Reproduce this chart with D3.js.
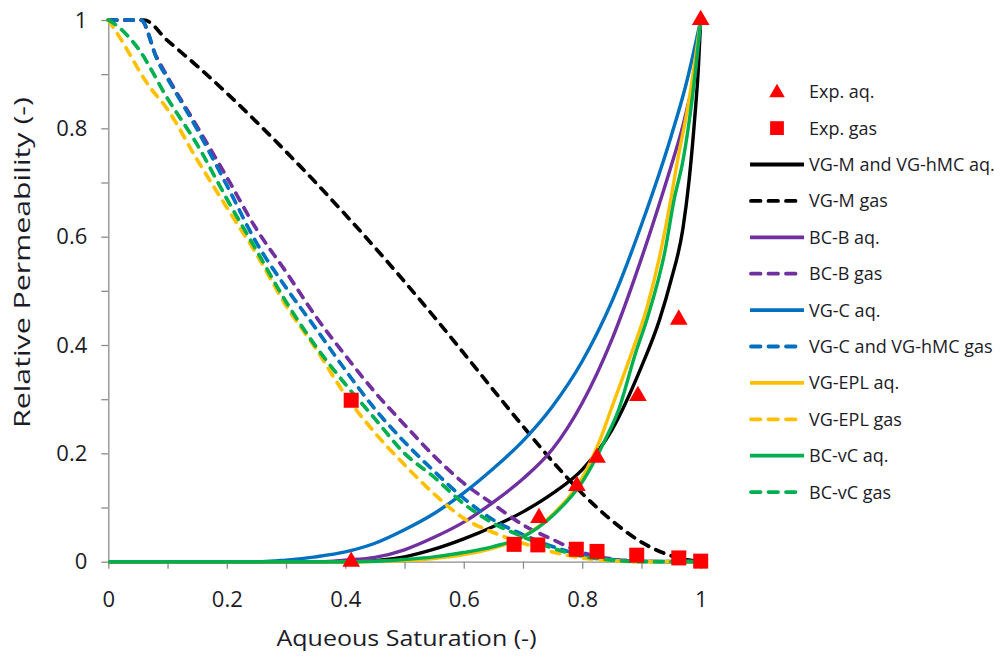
<!DOCTYPE html>
<html>
<head>
<meta charset="utf-8">
<script src="https://cdn.jsdelivr.net/npm/d3@7/dist/d3.min.js"></script>
<style>
  html, body { margin: 0; padding: 0; background: #fff; }
  svg { display: block; }
  text { font-family: "Open Sans", Lato, sans-serif; fill: #1c1c28; }
</style>
</head>
<body>
<svg id="chart" width="1003" height="659"></svg>
<script>
// Experimental points (aqueous saturation, relative permeability)
const expAq = [[0.41, 0.0], [0.727, 0.081], [0.791, 0.14], [0.825, 0.192], [0.894, 0.306], [0.963, 0.447], [1.0, 1.0]];
const expGas = [[0.41, 0.298], [0.685, 0.032], [0.725, 0.031], [0.79, 0.023], [0.825, 0.019], [0.892, 0.012], [0.963, 0.007], [1.0, 0.001]];

// Model curves
const vgmAq = [[0, 0], [0.40, 0], [0.45, 0.002], [0.5, 0.009], [0.55, 0.023], [0.6, 0.042], [0.65, 0.065], [0.7, 0.092], [0.75, 0.126], [0.8, 0.170], [0.85, 0.243], [0.9, 0.36], [0.93, 0.445], [0.95, 0.52], [0.97, 0.615], [0.98, 0.70], [0.99, 0.82], [0.996, 0.91], [1, 1]];
const vgmGas = [[0, 1], [0.06, 1], [0.1, 0.962], [0.15, 0.915], [0.2, 0.865], [0.25, 0.812], [0.3, 0.757], [0.35, 0.70], [0.4, 0.641], [0.45, 0.58], [0.5, 0.517], [0.55, 0.452], [0.6, 0.385], [0.65, 0.317], [0.7, 0.25], [0.75, 0.185], [0.8, 0.126], [0.85, 0.076], [0.9, 0.036], [0.95, 0.011], [0.98, 0.003], [1, 0]];
const bcbAq = [[0, 0], [0.36, 0], [0.4, 0.003], [0.45, 0.008], [0.5, 0.022], [0.55, 0.045], [0.6, 0.073], [0.65, 0.11], [0.7, 0.153], [0.75, 0.208], [0.8, 0.293], [0.85, 0.41], [0.9, 0.56], [0.93, 0.66], [0.95, 0.73], [0.97, 0.805], [0.98, 0.85], [0.99, 0.895], [1, 1]];
const bcbGas = [[0, 1], [0.055, 1], [0.08, 0.935], [0.1, 0.895], [0.15, 0.803], [0.2, 0.71], [0.25, 0.614], [0.3, 0.535], [0.35, 0.453], [0.4, 0.381], [0.45, 0.313], [0.5, 0.253], [0.55, 0.195], [0.6, 0.145], [0.65, 0.106], [0.7, 0.068], [0.75, 0.041], [0.8, 0.017], [0.85, 0.005], [0.9, 0.001], [0.95, 0], [1, 0]];
const vgcAq = [[0, 0], [0.26, 0], [0.3, 0.003], [0.35, 0.009], [0.4, 0.018], [0.45, 0.034], [0.5, 0.059], [0.55, 0.089], [0.6, 0.127], [0.65, 0.172], [0.7, 0.223], [0.75, 0.287], [0.8, 0.37], [0.85, 0.48], [0.9, 0.622], [0.95, 0.785], [0.975, 0.88], [1, 1]];
const vgcGas = [[0, 1], [0.055, 1], [0.084, 0.923], [0.1, 0.892], [0.15, 0.798], [0.2, 0.695], [0.25, 0.589], [0.3, 0.506], [0.35, 0.431], [0.4, 0.354], [0.45, 0.282], [0.5, 0.221], [0.55, 0.167], [0.6, 0.117], [0.65, 0.077], [0.7, 0.05], [0.75, 0.028], [0.8, 0.012], [0.85, 0.004], [0.9, 0.0005], [1, 0]];
const eplAq = [[0, 0], [0.42, 0], [0.5, 0.002], [0.55, 0.006], [0.6, 0.013], [0.65, 0.025], [0.7, 0.046], [0.75, 0.087], [0.8, 0.155], [0.83, 0.225], [0.85, 0.285], [0.88, 0.375], [0.91, 0.472], [0.93, 0.56], [0.95, 0.672], [0.96, 0.735], [0.98, 0.85], [1, 1]];
const eplGas = [[0, 1], [0.017, 0.972], [0.0675, 0.88], [0.1, 0.835], [0.15, 0.742], [0.2, 0.654], [0.25, 0.568], [0.3, 0.473], [0.35, 0.394], [0.4, 0.308], [0.45, 0.238], [0.5, 0.179], [0.55, 0.125], [0.6, 0.08], [0.65, 0.054], [0.7, 0.034], [0.75, 0.018], [0.8, 0.007], [0.85, 0.002], [0.9, 0], [1, 0]];
const bcvcAq = [[0, 0], [0.42, 0], [0.5, 0.004], [0.55, 0.009], [0.6, 0.017], [0.65, 0.028], [0.7, 0.046], [0.75, 0.085], [0.8, 0.147], [0.84, 0.228], [0.86, 0.276], [0.89, 0.385], [0.91, 0.45], [0.94, 0.575], [0.955, 0.668], [0.97, 0.74], [0.985, 0.849], [1, 1]];
const bcvcGas = [[0, 1], [0.0115, 0.992], [0.05, 0.948], [0.1, 0.855], [0.15, 0.77], [0.2, 0.67], [0.25, 0.575], [0.3, 0.48], [0.35, 0.398], [0.4, 0.328], [0.45, 0.264], [0.5, 0.2], [0.55, 0.156], [0.6, 0.107], [0.65, 0.071], [0.7, 0.046], [0.75, 0.025], [0.8, 0.01], [0.85, 0.003], [0.9, 0], [1, 0]];

// Axis ticks
const tickValues = [0, 0.1, 0.2, 0.3, 0.4, 0.5, 0.6, 0.7, 0.8, 0.9, 1];
const labeledTicks = [0, 0.2, 0.4, 0.6, 0.8, 1];
const tickLabels = ["0", "0.2", "0.4", "0.6", "0.8", "1"];

// Series in drawing order
const seriesNames = ["VG-M and VG-hMC aq.", "VG-M gas", "BC-B aq.", "BC-B gas", "VG-C aq.", "VG-C and VG-hMC gas", "VG-EPL aq.", "VG-EPL gas", "BC-vC aq.", "BC-vC gas"];
const seriesData = [vgmAq, vgmGas, bcbAq, bcbGas, vgcAq, vgcGas, eplAq, eplGas, bcvcAq, bcvcGas];
const seriesColors = ["#000000", "#000000", "#7030A0", "#7030A0", "#0070C0", "#0070C0", "#FFC000", "#FFC000", "#00B050", "#00B050"];
const seriesDashed = [false, true, false, true, false, true, false, true, false, true];

const svg = d3.select("#chart");
const x = d3.scaleLinear().domain([0, 1]).range([108.3, 700.7]);
const y = d3.scaleLinear().domain([0, 1]).range([561.7, 20]);
const axisColor = "#8c8c8c";

// Axes
const fmt = d => { const i = labeledTicks.findIndex(v => Math.abs(v - d) < 1e-9); return i >= 0 ? tickLabels[i] : ""; };

const yAxis = svg.append("g").attr("transform", `translate(${x(0)},0)`)
  .call(d3.axisLeft(y).tickValues(tickValues).tickSize(7).tickSizeOuter(0).tickPadding(14).tickFormat(fmt));
const xAxis = svg.append("g").attr("transform", `translate(0,${y(0)})`)
  .call(d3.axisBottom(x).tickValues(tickValues).tickSize(7).tickSizeOuter(0).tickPadding(23).tickFormat(fmt));

[yAxis, xAxis].forEach(g => {
  g.select(".domain").attr("stroke", axisColor).attr("stroke-width", 1.3);
  g.selectAll(".tick line").attr("stroke", axisColor).attr("stroke-width", 1.3);
  g.selectAll(".tick text").style("font-size", "22px").style("font-family", "'Open Sans', sans-serif").attr("fill", "#1c1c28");
});

// Curves
const line = d3.line().x(d => x(d[0])).y(d => y(d[1])).curve(d3.curveMonotoneX);
const curves = svg.append("g");
seriesData.forEach((data, i) => {
  curves.append("path")
    .attr("d", line(data))
    .attr("fill", "none")
    .attr("stroke", seriesColors[i])
    .attr("stroke-width", seriesDashed[i] ? 3.7 : 3.4)
    .attr("stroke-linecap", seriesDashed[i] ? "round" : "butt")
    .attr("stroke-linejoin", "round")
    .attr("stroke-dasharray", seriesDashed[i] ? "8.5,8" : null);
});

// Experimental markers
const tri = d3.symbol().type(d3.symbolTriangle).size(135);
const sq = d3.symbol().type(d3.symbolSquare).size(225);
svg.append("g").selectAll("path").data(expGas).join("path")
  .attr("d", sq).attr("fill", "#FF0000")
  .attr("transform", d => `translate(${x(d[0])},${y(d[1])})`);
svg.append("g").selectAll("path").data(expAq).join("path")
  .attr("d", tri).attr("fill", "#FF0000")
  .attr("transform", d => `translate(${x(d[0])},${y(d[1])})`);

// Axis titles
svg.append("text")
  .attr("x", 406.5).attr("y", 646)
  .attr("text-anchor", "middle")
  .attr("textLength", 260).attr("lengthAdjust", "spacingAndGlyphs")
  .style("font-size", "22px")
  .text("Aqueous Saturation (-)");
svg.append("text")
  .attr("transform", "translate(30,262.5) rotate(-90)")
  .attr("text-anchor", "middle")
  .attr("textLength", 331).attr("lengthAdjust", "spacingAndGlyphs")
  .style("font-size", "22px")
  .text("Relative Permeability (-)");

// Legend
const legend = svg.append("g");
const rowY = i => 91.7 + i * 36.4;
const legendFont = "18px";
legend.append("path").attr("d", d3.symbol().type(d3.symbolTriangle).size(105))
  .attr("fill", "#FF0000").attr("transform", `translate(777,${rowY(0) + 1})`);
legend.append("text").attr("x", 809).attr("y", rowY(0)).attr("dy", "0.36em").style("font-size", legendFont).text("Exp. aq.");
legend.append("path").attr("d", d3.symbol().type(d3.symbolSquare).size(190))
  .attr("fill", "#FF0000").attr("transform", `translate(777,${rowY(1)})`);
legend.append("text").attr("x", 809).attr("y", rowY(1)).attr("dy", "0.36em").style("font-size", legendFont).text("Exp. gas");

seriesNames.forEach((name, i) => {
  const yy = rowY(i + 2);
  legend.append("line")
    .attr("x1", seriesDashed[i] ? 751 : 750).attr("x2", seriesDashed[i] ? 800 : 804)
    .attr("y1", yy).attr("y2", yy)
    .attr("stroke", seriesColors[i]).attr("stroke-width", 3.8)
    .attr("stroke-linecap", seriesDashed[i] ? "round" : "butt")
    .attr("stroke-dasharray", seriesDashed[i] ? "9.5,8" : null);
  legend.append("text").attr("x", 809).attr("y", yy).attr("dy", "0.36em")
    .style("font-size", legendFont).text(name);
});
</script>
</body>
</html>
